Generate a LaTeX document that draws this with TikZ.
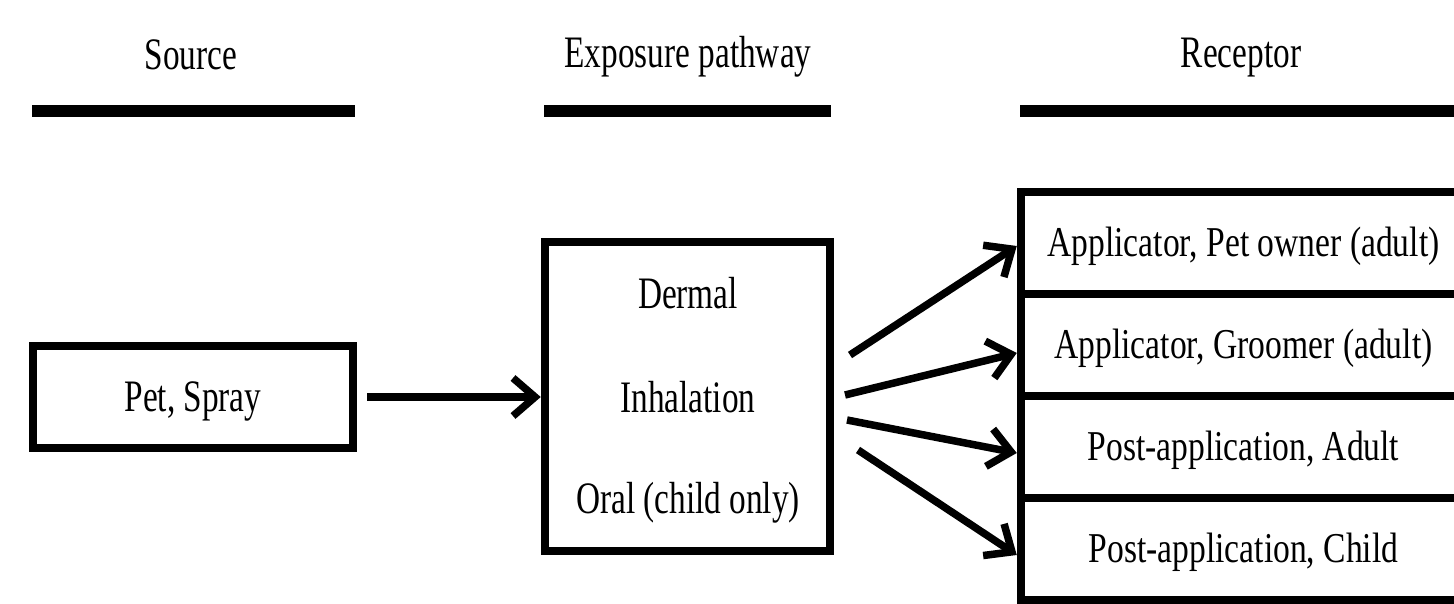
\documentclass[tikz,border=0pt]{standalone}
\usepackage{fontspec}
\setmainfont{Liberation Serif}[FakeStretch=0.74]
\newfontfamily\cellfont{Liberation Serif}[FakeStretch=0.79]
\usetikzlibrary{arrows.meta}
\begin{document}
\begin{tikzpicture}[x=1pt,y=-1pt,
  every node/.style={font=\fontsize{45}{54}\selectfont, inner sep=0pt},
  box/.style={draw, line width=8.5pt, rectangle},
  cell/.style={box, minimum width=445pt, minimum height=102pt, text height=27pt, text depth=0pt,
    font=\cellfont\fontsize{42.5}{50}\selectfont},
  rulebar/.style={line width=12pt},
  conn/.style={line width=7.5pt, -{Straight Barb[length=22pt,width=38pt]}},
  lbl/.style={anchor=base}]
\useasboundingbox (0,0) rectangle (1454,604);
\fill[white] (0,0) rectangle (1454,604);

% headers
\node[lbl] (hs) at (191,70) {Source};
\node[lbl] (he) at (688,68) {Exposure pathway};
\node[lbl] (hr) at (1241,68) {Receptor};
\draw[rulebar] (32,111) -- (355,111);
\draw[rulebar] (544,111) -- (831,111);
\draw[rulebar] (1020,111) -- (1470,111);

% source
\node[box, minimum width=320pt, minimum height=102pt, text height=29pt, text depth=0pt] (src) at (193,397) {Pet, Spray};

% exposure pathway
\node[box, minimum width=285pt, minimum height=309pt] (exp) at (687.5,396.5) {};
\node[lbl] (e1) at (688,308) {Dermal};
\node[lbl] (e2) at (688,412) {Inhalation};
\node[lbl] (e3) at (688,513) {Oral (child only)};

% receptors
\node[cell] (r1) at (1243.5,243) {Applicator, Pet owner (adult)};
\node[cell] (r2) at (1243.5,345) {Applicator, Groomer (adult)};
\node[cell] (r3) at (1243.5,447) {Post-application, Adult};
\node[cell] (r4) at (1243.5,549) {Post-application, Child};

% connectors
\draw[conn] ([xshift=10pt]src.east) -- (src.east -| exp.west);
\coordinate (s1) at (850,355);
\coordinate (s2) at (845,395);
\coordinate (s3) at (847,420);
\coordinate (s4) at (858,450);
\draw[conn] (s1) -- ([yshift=-3pt]r1.west);
\draw[conn] (s2) -- ([yshift=-8pt]r2.west);
\draw[conn] (s3) -- ([yshift=-6pt]r3.west);
\draw[conn] (s4) -- ([yshift=-6pt]r4.west);
\end{tikzpicture}
\end{document}
